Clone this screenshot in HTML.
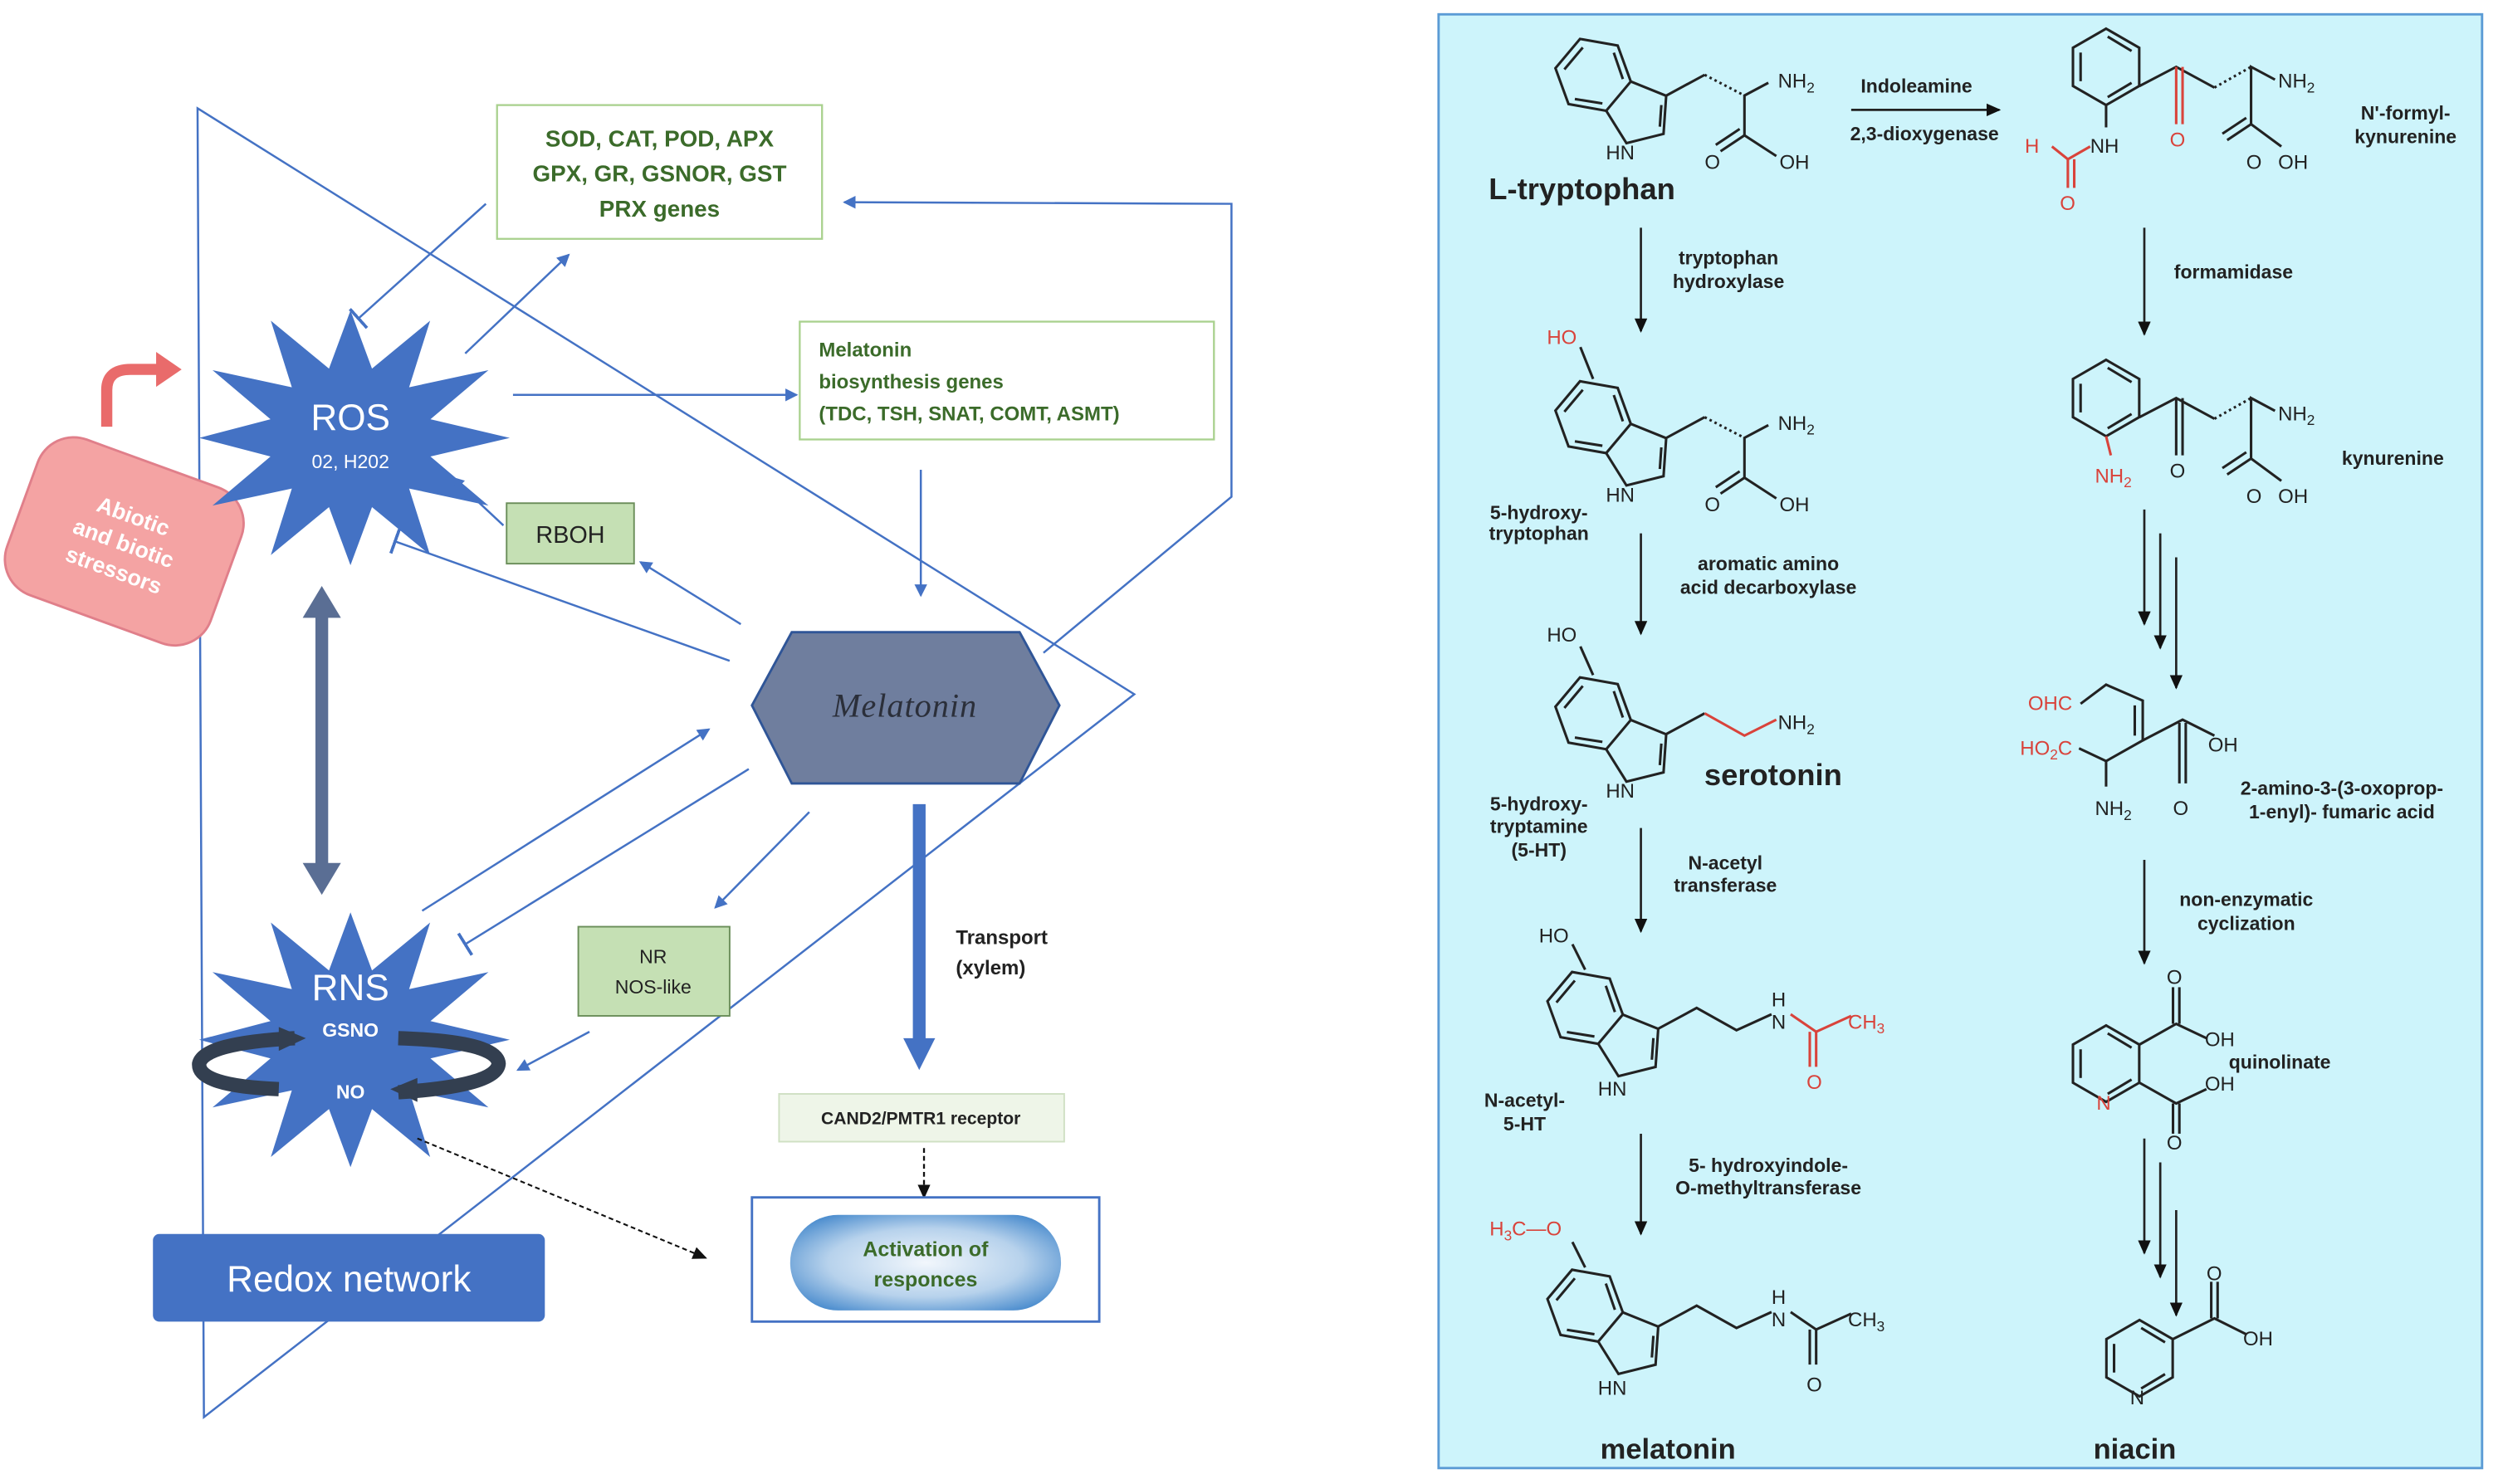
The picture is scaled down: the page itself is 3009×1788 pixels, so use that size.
<!DOCTYPE html>
<html><head><meta charset="utf-8"><style>
html,body{margin:0;padding:0;background:#fff;}
svg{display:block;}
text{font-family:"Liberation Sans",sans-serif;}
</style></head><body>
<svg width="3009" height="1788" viewBox="0 0 1568 932" preserveAspectRatio="none" xmlns="http://www.w3.org/2000/svg">
<defs>
<marker id="ab" markerWidth="8" markerHeight="8" refX="7" refY="4" orient="auto" markerUnits="userSpaceOnUse"><path d="M0,0 L8,4 L0,8 z" fill="#4472c4"/></marker>
<marker id="ak" markerWidth="9" markerHeight="8" refX="8" refY="4" orient="auto" markerUnits="userSpaceOnUse"><path d="M0,0 L9,4 L0,8 z" fill="#111"/></marker>
<marker id="tb" markerWidth="2" markerHeight="16" refX="1" refY="8" orient="auto" markerUnits="userSpaceOnUse"><rect x="0" y="0" width="2" height="16" fill="#4472c4"/></marker>
<radialGradient id="eg" cx="50%" cy="50%" r="60%"><stop offset="0" stop-color="#f2f7fc"/><stop offset="0.6" stop-color="#b7d2ec"/><stop offset="1" stop-color="#4f8fcf"/></radialGradient>
<g id="bz" fill="none" stroke="#222" stroke-width="1.6">
<polygon points="0,-24 20.8,-12 20.8,12 0,24 -20.8,12 -20.8,-12"/>
<line x1="-16" y1="-9" x2="-16" y2="9"/><line x1="1" y1="-19" x2="16" y2="-10"/><line x1="1" y1="19" x2="16" y2="10"/>
</g>
<g id="ind" fill="none" stroke="#222" stroke-width="1.6">
<g transform="rotate(40)"><use href="#bz"/>
<polyline points="20.8,-12 43.6,-19.4 57.7,0 43.6,19.4 20.8,12"/>
<line x1="45" y1="-13" x2="53" y2="-2"/></g>
</g>
</defs>

<!-- LEFT DIAGRAM -->
<g fill="none" stroke="#4472c4" stroke-width="1.3">
<polygon points="124,68 712,436 128,890"/>
<polyline points="655,410 773,312 773,128 530,127" marker-end="url(#ab)"/>
</g>
<rect x="312" y="66" width="204" height="84" fill="#fff" stroke="#a9d18e" stroke-width="1.2"/>
<g font-size="14.5" font-weight="bold" fill="#3b6b2a" text-anchor="middle">
<text x="414" y="92">SOD, CAT, POD, APX</text><text x="414" y="114">GPX, GR, GSNOR, GST</text><text x="414" y="136">PRX genes</text></g>
<rect x="502" y="202" width="260" height="74" fill="#fff" stroke="#a9d18e" stroke-width="1.2"/>
<g font-size="12.5" font-weight="bold" fill="#3b6b2a">
<text x="514" y="224">Melatonin</text><text x="514" y="244">biosynthesis genes</text><text x="514" y="264">(TDC, TSH, SNAT, COMT, ASMT)</text></g>

<!-- stressor -->
<g transform="translate(78,340) rotate(20)"><rect x="-68" y="-52" width="136" height="104" rx="24" fill="#f4a3a3" stroke="#e07f8a" stroke-width="1.5"/>
<g fill="#fff" font-size="14" font-weight="bold" text-anchor="middle"><text y="-12">Abiotic</text><text y="6">and biotic</text><text y="24">stressors</text></g></g>
<path d="M67,268 L67,245 Q67,232 82,232 L100,232" fill="none" stroke="#e96b6b" stroke-width="7"/>
<path d="M98,221 L114,232 L98,243 z" fill="#e96b6b"/>

<!-- stars -->
<g id="star"><polygon fill="#4472c4" points="320,275 270.2,286.7 306.6,317.5 256.8,306.8 270,348.6 233.5,318.5 220,355 206.5,318.5 170,348.6 183.2,306.8 133.4,317.5 169.8,286.7 125,275 169.8,263.3 133.4,232.5 183.2,243.2 170,201.4 206.5,231.5 220,195 233.5,231.5 270,201.4 256.8,243.2 306.6,232.5 270.2,263.3"/></g>
<use href="#star" transform="translate(0,378)"/>
<text x="220" y="270" fill="#fff" font-size="23" text-anchor="middle">ROS</text>
<text x="220" y="294" fill="#fff" font-size="12" text-anchor="middle">02, H202</text>
<text x="220" y="628" fill="#fff" font-size="23" text-anchor="middle">RNS</text>
<text x="220" y="651" fill="#fff" font-size="12" font-weight="bold" text-anchor="middle">GSNO</text>
<text x="220" y="690" fill="#fff" font-size="12" font-weight="bold" text-anchor="middle">NO</text>
<g fill="none" stroke="#333f50" stroke-width="9">
<path d="M185,652 Q128,655 125,668 Q124,682 175,684"/>
<path d="M250,686 Q312,682 313,668 Q312,654 250,652"/></g>
<path d="M175,645 L192,652 L175,660 z" fill="#333f50"/>
<path d="M262,677 L245,684 L262,692 z" fill="#333f50"/>

<!-- double arrow -->
<line x1="202" y1="385" x2="202" y2="545" stroke="#5a6e94" stroke-width="8"/>
<path d="M190,388 L202,368 L214,388 z M190,542 L202,562 L214,542 z" fill="#5a6e94"/>

<rect x="318" y="316" width="80" height="38" fill="#c5e0b4" stroke="#6b8e5a" stroke-width="1"/>
<text x="358" y="341" font-size="15" text-anchor="middle" fill="#222">RBOH</text>
<rect x="363" y="582" width="95" height="56" fill="#c5e0b4" stroke="#6b8e5a" stroke-width="1"/>
<text x="410" y="605" font-size="12" text-anchor="middle" fill="#222">NR</text>
<text x="410" y="624" font-size="12" text-anchor="middle" fill="#222">NOS-like</text>

<polygon points="472,443 497,397 640,397 665,443 640,492 497,492" fill="#6f7e9e" stroke="#2f5597" stroke-width="1.5"/>
<text x="568" y="450" style="font-family:'Liberation Serif',serif;font-style:italic;font-size:21px;font-weight:normal;letter-spacing:0.5px" fill="#2b2f3a" text-anchor="middle">Melatonin</text>

<g fill="none" stroke="#4472c4" stroke-width="1.3">
<line x1="292" y1="222" x2="357" y2="160" marker-end="url(#ab)"/>
<line x1="305" y1="128" x2="225" y2="200" marker-end="url(#tb)"/>
<line x1="322" y1="248" x2="500" y2="248" marker-end="url(#ab)"/>
<line x1="578" y1="295" x2="578" y2="374" marker-end="url(#ab)"/>
<line x1="316" y1="330" x2="284" y2="300" marker-end="url(#ab)"/>
<line x1="465" y1="392" x2="402" y2="353" marker-end="url(#ab)"/>
<line x1="458" y1="415" x2="248" y2="340" marker-end="url(#tb)"/>
<line x1="265" y1="572" x2="445" y2="458" marker-end="url(#ab)"/>
<line x1="470" y1="483" x2="292" y2="593" marker-end="url(#tb)"/>
<line x1="508" y1="510" x2="449" y2="570" marker-end="url(#ab)"/>
<line x1="370" y1="648" x2="325" y2="672" marker-end="url(#ab)"/>
</g>
<line x1="577" y1="505" x2="577" y2="655" stroke="#4472c4" stroke-width="8"/>
<path d="M567,652 L577,672 L587,652 z" fill="#4472c4"/>
<text x="600" y="593" font-size="12.5" font-weight="bold" fill="#222">Transport</text>
<text x="600" y="612" font-size="12.5" font-weight="bold" fill="#222">(xylem)</text>
<rect x="489" y="687" width="179" height="30" fill="#eef5e8" stroke="#cfe0c3" stroke-width="1"/>
<text x="578" y="706" font-size="11" font-weight="bold" fill="#222" text-anchor="middle">CAND2/PMTR1 receptor</text>
<line x1="580" y1="721" x2="580" y2="752" stroke="#111" stroke-width="1.2" stroke-dasharray="3,2" marker-end="url(#ak)"/>
<rect x="472" y="752" width="218" height="78" fill="#fff" stroke="#4472c4" stroke-width="1.5"/>
<rect x="496" y="763" width="170" height="60" rx="30" fill="url(#eg)"/>
<text x="581" y="789" font-size="13" font-weight="bold" fill="#3b6b2a" text-anchor="middle">Activation of</text>
<text x="581" y="808" font-size="13" font-weight="bold" fill="#3b6b2a" text-anchor="middle">responces</text>
<line x1="262" y1="715" x2="443" y2="790" stroke="#111" stroke-width="1.1" stroke-dasharray="3,2" marker-end="url(#ak)"/>
<rect x="96" y="775" width="246" height="55" rx="4" fill="#4472c4"/>
<text x="219" y="811" font-size="23" fill="#fff" text-anchor="middle">Redox network</text>

<!-- RIGHT PANEL -->
<rect x="903" y="9" width="655" height="913" fill="#cdf4fb" stroke="#5b9bd5" stroke-width="1.5"/>
<g fill="none" stroke="#222" stroke-width="1.6">
<use href="#ind" transform="translate(1000,47)"/>
<polyline points="1046,60 1070,47"/><line x1="1070" y1="47" x2="1095" y2="60" stroke-dasharray="1.5,2"/>
<polyline points="1110,52 1095,60 1095,85 1115,98"/><line x1="1095" y1="85" x2="1080" y2="95"/><line x1="1092" y1="81" x2="1077" y2="91"/>
<use href="#ind" transform="translate(1000,262)"/>
<line x1="1000" y1="238" x2="992" y2="218"/>
<polyline points="1046,275 1070,262"/><line x1="1070" y1="262" x2="1095" y2="275" stroke-dasharray="1.5,2"/>
<polyline points="1110,267 1095,275 1095,300 1115,313"/><line x1="1095" y1="300" x2="1080" y2="310"/><line x1="1092" y1="296" x2="1077" y2="306"/>
<use href="#ind" transform="translate(1000,448)"/>
<line x1="1000" y1="424" x2="992" y2="406"/>
<polyline points="1046,461 1070,448"/>
<polyline points="1070,448 1095,462 1115,452" stroke="#d9433b"/>
<use href="#ind" transform="translate(995,633)"/>
<line x1="995" y1="609" x2="987" y2="593"/>
<polyline points="1041,646 1065,633 1090,647 1112,637"/>
<polyline points="1124,637 1140,648 1162,638" stroke="#d9433b"/>
<line x1="1140" y1="648" x2="1140" y2="670" stroke="#d9433b"/><line x1="1136" y1="648" x2="1136" y2="670" stroke="#d9433b"/>
<use href="#ind" transform="translate(995,820)"/>
<line x1="995" y1="796" x2="987" y2="780"/>
<polyline points="1041,833 1065,820 1090,834 1112,824"/>
<polyline points="1124,824 1140,835 1162,825"/>
<line x1="1140" y1="835" x2="1140" y2="857"/><line x1="1136" y1="835" x2="1136" y2="857"/>
<use href="#bz" transform="translate(1322,42)"/>
<polyline points="1343,54 1366,42 1390,55"/>
<line x1="1366" y1="42" x2="1366" y2="78" stroke="#d9433b"/><line x1="1370" y1="42" x2="1370" y2="78" stroke="#d9433b"/>
<line x1="1390" y1="55" x2="1413" y2="42" stroke-dasharray="1.5,2"/>
<polyline points="1428,50 1413,42 1413,78 1432,92"/><line x1="1413" y1="78" x2="1398" y2="88"/><line x1="1410" y1="74" x2="1395" y2="84"/>
<line x1="1322" y1="66" x2="1322" y2="80"/>
<polyline points="1312,92 1298,100 1288,92" stroke="#d9433b"/>
<line x1="1298" y1="100" x2="1298" y2="118" stroke="#d9433b"/><line x1="1302" y1="100" x2="1302" y2="118" stroke="#d9433b"/>
<use href="#bz" transform="translate(1322,250)"/>
<polyline points="1343,262 1366,250 1390,263"/>
<line x1="1366" y1="250" x2="1366" y2="286"/><line x1="1370" y1="250" x2="1370" y2="286"/>
<line x1="1390" y1="263" x2="1413" y2="250" stroke-dasharray="1.5,2"/>
<polyline points="1428,258 1413,250 1413,288 1432,302"/><line x1="1413" y1="288" x2="1398" y2="298"/><line x1="1410" y1="284" x2="1395" y2="294"/>
<line x1="1322" y1="274" x2="1325" y2="286" stroke="#d9433b"/>
<polyline points="1306,442 1322,430 1345,440 1345,465 1322,478 1305,470"/>
<line x1="1340" y1="443" x2="1340" y2="462"/>
<polyline points="1345,465 1370,452 1390,462"/>
<line x1="1368" y1="454" x2="1368" y2="492"/><line x1="1372" y1="454" x2="1372" y2="492"/>
<line x1="1322" y1="478" x2="1322" y2="494"/>
<g transform="translate(1322,668)"><polygon points="0,-24 20.8,-12 20.8,12 0,24 -20.8,12 -20.8,-12"/><line x1="-16" y1="-9" x2="-16" y2="9"/><line x1="1" y1="-19" x2="16" y2="-10"/><line x1="1" y1="19" x2="16" y2="10"/></g>
<polyline points="1343,656 1366,643 1385,652"/><line x1="1364" y1="643" x2="1364" y2="620"/><line x1="1368" y1="643" x2="1368" y2="620"/>
<polyline points="1343,680 1366,693 1385,684"/><line x1="1364" y1="693" x2="1364" y2="712"/><line x1="1368" y1="693" x2="1368" y2="712"/>
<g transform="translate(1343,853)"><polygon points="0,-24 20.8,-12 20.8,12 0,24 -20.8,12 -20.8,-12"/><line x1="-16" y1="-9" x2="-16" y2="9"/><line x1="1" y1="-19" x2="16" y2="-10"/><line x1="1" y1="19" x2="16" y2="10"/></g>
<polyline points="1364,841 1390,828 1410,838"/><line x1="1388" y1="828" x2="1388" y2="805"/><line x1="1392" y1="828" x2="1392" y2="805"/>
</g>
<g stroke="#222" stroke-width="1.4" marker-end="url(#ak)">
<line x1="1162" y1="69" x2="1255" y2="69"/>
<line x1="1030" y1="143" x2="1030" y2="208"/>
<line x1="1030" y1="335" x2="1030" y2="398"/>
<line x1="1030" y1="520" x2="1030" y2="585"/>
<line x1="1030" y1="712" x2="1030" y2="775"/>
<line x1="1346" y1="143" x2="1346" y2="210"/>
<line x1="1346" y1="320" x2="1346" y2="392"/><line x1="1356" y1="335" x2="1356" y2="407"/><line x1="1366" y1="350" x2="1366" y2="432"/>
<line x1="1346" y1="540" x2="1346" y2="605"/>
<line x1="1346" y1="715" x2="1346" y2="787"/><line x1="1356" y1="730" x2="1356" y2="802"/><line x1="1366" y1="760" x2="1366" y2="826"/>
</g>
<g font-size="12.5" fill="#222">
<text x="1008" y="100">HN</text><text x="1116" y="55">NH<tspan font-size="9" dy="3">2</tspan></text><text x="1070" y="106">O</text><text x="1117" y="106">OH</text>
<text x="1008" y="315">HN</text><text x="1116" y="270">NH<tspan font-size="9" dy="3">2</tspan></text><text x="1070" y="321">O</text><text x="1117" y="321">OH</text>
<text x="971" y="216" fill="#d9433b">HO</text>
<text x="971" y="403">HO</text><text x="1008" y="501">HN</text><text x="1116" y="458">NH<tspan font-size="9" dy="3">2</tspan></text>
<text x="966" y="592">HO</text><text x="1003" y="688">HN</text><text x="1112" y="632">H</text><text x="1112" y="646">N</text><text x="1160" y="646" fill="#d9433b">CH<tspan font-size="9" dy="3">3</tspan></text><text x="1134" y="684" fill="#d9433b">O</text>
<text x="935" y="776" fill="#d9433b">H<tspan font-size="9" dy="3">3</tspan><tspan dy="-3">C—O</tspan></text><text x="1003" y="876">HN</text><text x="1112" y="819">H</text><text x="1112" y="833">N</text><text x="1160" y="833">CH<tspan font-size="9" dy="3">3</tspan></text><text x="1134" y="874">O</text>
<text x="1312" y="96">NH</text><text x="1271" y="96" fill="#d9433b">H</text><text x="1293" y="132" fill="#d9433b">O</text><text x="1362" y="92" fill="#d9433b">O</text><text x="1430" y="55">NH<tspan font-size="9" dy="3">2</tspan></text><text x="1410" y="106">O</text><text x="1430" y="106">OH</text>
<text x="1315" y="303" fill="#d9433b">NH<tspan font-size="9" dy="3">2</tspan></text><text x="1362" y="300">O</text><text x="1430" y="264">NH<tspan font-size="9" dy="3">2</tspan></text><text x="1410" y="316">O</text><text x="1430" y="316">OH</text>
<text x="1273" y="446" fill="#d9433b">OHC</text><text x="1268" y="474" fill="#d9433b">HO<tspan font-size="9" dy="3">2</tspan><tspan dy="-3">C</tspan></text><text x="1315" y="512">NH<tspan font-size="9" dy="3">2</tspan></text><text x="1364" y="512">O</text><text x="1386" y="472">OH</text>
<text x="1360" y="618">O</text><text x="1384" y="657">OH</text><text x="1384" y="685">OH</text><text x="1360" y="722">O</text><text x="1316" y="697" fill="#d9433b">N</text>
<text x="1337" y="882">N</text><text x="1385" y="804">O</text><text x="1408" y="845">OH</text>
</g>
<g font-size="12" font-weight="bold" fill="#222" text-anchor="middle">
<text x="1203" y="58">Indoleamine</text><text x="1208" y="88">2,3-dioxygenase</text>
<text x="1085" y="166">tryptophan</text><text x="1085" y="181">hydroxylase</text>
<text x="966" y="326">5-hydroxy-</text><text x="966" y="339">tryptophan</text>
<text x="1110" y="358">aromatic amino</text><text x="1110" y="373">acid decarboxylase</text>
<text x="966" y="509">5-hydroxy-</text><text x="966" y="523">tryptamine</text><text x="966" y="538">(5-HT)</text>
<text x="1083" y="546">N-acetyl</text><text x="1083" y="560">transferase</text>
<text x="957" y="695">N-acetyl-</text><text x="957" y="710">5-HT</text>
<text x="1110" y="736">5- hydroxyindole-</text><text x="1110" y="750">O-methyltransferase</text>
<text x="1510" y="75">N'-formyl-</text><text x="1510" y="90">kynurenine</text>
<text x="1402" y="175">formamidase</text>
<text x="1502" y="292">kynurenine</text>
<text x="1470" y="499">2-amino-3-(3-oxoprop-</text><text x="1470" y="514">1-enyl)- fumaric acid</text>
<text x="1410" y="569">non-enzymatic</text><text x="1410" y="584">cyclization</text>
<text x="1431" y="671">quinolinate</text>
</g>
<g font-weight="bold" fill="#222" text-anchor="middle">
<text x="993" y="125" font-size="19">L-tryptophan</text>
<text x="1113" y="493" font-size="19">serotonin</text>
<text x="1047" y="916" font-size="18">melatonin</text>
<text x="1340" y="916" font-size="18">niacin</text>
</g>
</svg>
</body></html>
